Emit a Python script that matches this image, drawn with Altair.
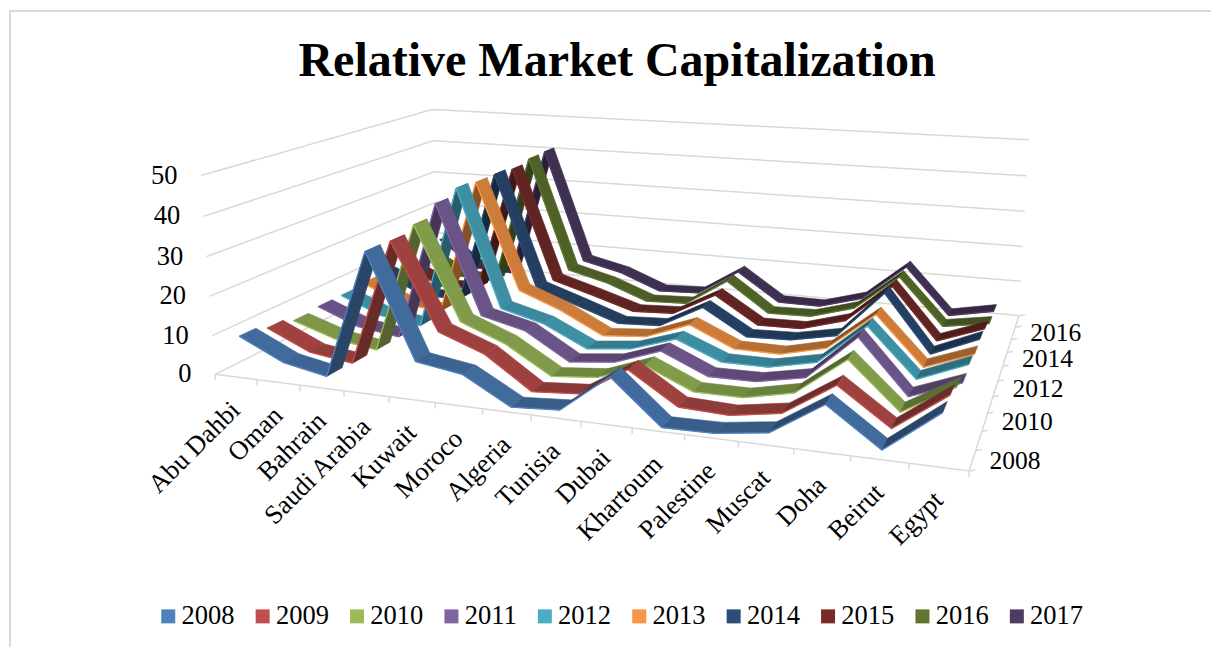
import altair as alt
import numpy as np
import pandas as pd

W, H = 1211, 647

CITIES = ["Abu Dahbi", "Oman", "Bahrain", "Saudi Arabia", "Kuwait", "Moroco", "Algeria", "Tunisia",
          "Dubai", "Khartoum", "Palestine", "Muscat", "Doha", "Beirut", "Egypt"]
YEARS = ["2008", "2009", "2010", "2011", "2012", "2013", "2014", "2015", "2016", "2017"]
COLORS = ["#4F81BD", "#C0504D", "#9BBB59", "#8064A2", "#4BACC6",
          "#F79646", "#2C4D75", "#772C2A", "#5F7530", "#4D3B62"]

# Market capitalization per year, one list per year, in city order
V2008 = [9.8, 4.4, 2.2, 34.2, 8.6, 6.8, 0.3, 1.1, 10.4, 0.0, 0.2, 1.9, 9.8, 1.2, 11.0]
V2009 = [8.5, 3.4, 1.8, 34.0, 12.4, 8.1, 0.1, 1.0, 8.3, 0.7, 0.2, 2.2, 10.2, 1.7, 10.8]
V2010 = [7.1, 3.4, 1.7, 35.5, 11.6, 7.1, 0.1, 1.2, 5.6, 0.4, 0.4, 3.0, 12.4, 1.3, 8.7]
V2011 = [7.7, 3.3, 1.7, 38.5, 9.9, 7.1, 0.1, 1.4, 5.6, 0.4, 0.5, 2.9, 14.2, 1.0, 5.8]
V2012 = [7.7, 3.1, 1.4, 40.3, 8.6, 5.6, 0.0, 1.3, 5.2, 0.4, 0.4, 3.0, 13.5, 1.4, 6.5]
V2013 = [8.2, 3.4, 2.2, 39.7, 10.5, 6.0, 0.1, 1.1, 5.6, 0.3, 0.2, 3.1, 13.1, 0.7, 5.4]
V2014 = [8.3, 2.7, 2.6, 39.8, 8.1, 4.2, 0.2, 0.8, 7.1, 0.1, 0.5, 2.9, 15.5, 0.5, 5.8]
V2015 = [7.8, 2.4, 2.8, 39.2, 7.4, 4.0, 0.4, 1.0, 7.4, 0.0, 0.2, 3.7, 14.3, 0.5, 5.1]
V2016 = [8.8, 2.5, 2.0, 40.2, 7.5, 4.6, 0.2, 0.7, 8.4, 0.1, 0.4, 3.9, 13.9, 1.1, 3.1]
V2017 = [10.3, 2.2, 1.6, 40.4, 7.5, 4.8, 0.2, 0.7, 8.2, 0.2, 0.1, 3.6, 13.8, 0.9, 3.3]
SERIES = [V2008, V2009, V2010, V2011, V2012, V2013, V2014, V2015, V2016, V2017]

GRID_LEVELS = [0, 10, 20, 30, 40, 50]
YEAR_TICKS = ["2008", "2010", "2012", "2014", "2016"]

# Perspective camera: (category 0-1, year depth 0-1, value) -> page pixels
CAMERA = np.array([[584.45721, 358.97714, -0.40569, 215.06724],
                   [14.25424, -29.7377, -4.08324, 374.36757],
                   [-0.17499, 0.31194, -0.00061, 1.0]])
RIBBON = 0.03
GRID = "#D9D9D9"
FONT = "Liberation Serif"
LABEL_SIZE = 26.5
YEAR_LABEL_SIZE = 25.5


def project(u, v, z):
    h = CAMERA @ np.array([u, v, z, 1.0])
    return float(h[0] / h[2]), float(h[1] / h[2])


def shade(color, f):
    rgb = [int(color[i:i + 2], 16) for i in (1, 3, 5)]
    return "#%02x%02x%02x" % tuple(int(min(255, c * f)) for c in rgb)


def face_factor(step):
    if step < 0:
        return 0.74 + 0.09 * min(-step / 5, 1)
    return 0.74 - 0.2 * min(step / 10, 1)


# Ribbon faces, painted from the back year to the front year
rows = []
pid = 0
for s in reversed(range(len(YEARS))):
    v = (s + 0.5) / len(YEARS)
    vals = SERIES[s]
    for k in range(len(vals) - 1):
        u0, u1 = (k + 0.5) / len(vals), (k + 1.5) / len(vals)
        z0, z1 = vals[k], vals[k + 1]
        corners = [(u0, v - RIBBON, z0), (u1, v - RIBBON, z1), (u1, v + RIBBON, z1), (u0, v + RIBBON, z0)]
        face = shade(COLORS[s], face_factor(z1 - z0))
        for n, c in enumerate(corners):
            px, py = project(*c)
            rows.append(dict(piece=pid, vertex=n, px=px, py=py, paint=face, lw=0.6))
        pid += 1
        edge = shade(COLORS[s], 1.02)
        for n, c in enumerate(corners[:2]):
            px, py = project(*c)
            rows.append(dict(piece=pid, vertex=n, px=px, py=py, paint=edge, lw=1.3))
        pid += 1
ribbons = pd.DataFrame(rows)

# Walls, floor edges and tick marks
rows = []
lid = 0


def polyline(points):
    global lid
    for n, p in enumerate(points):
        px, py = p
        rows.append(dict(piece=lid, vertex=n, px=px, py=py))
    lid += 1


for z in GRID_LEVELS:
    polyline([project(0, 0, z), project(0, 1, z), project(1, 1, z)])
polyline([project(0, 0, 0), project(1, 0, 0), project(1, 1, 0)])
for i in range(len(CITIES) + 1):
    x0, y0 = project(i / len(CITIES), 0, 0)
    polyline([(x0, y0), (x0, y0 + 6)])
for i in range(len(YEARS) + 1):
    x0, y0 = project(1, i / len(YEARS), 0)
    polyline([(x0, y0), (x0 + 6, y0 - 1)])
grid = pd.DataFrame(rows)

# Only the left and top sides of the outer border fall on the page
frame = pd.DataFrame(dict(piece=0, vertex=range(3), px=[10, 10, W + 2], py=[H + 2, 11, 11]))

city_labels = pd.DataFrame([
    dict(label=c, px=project((i + 0.5) / len(CITIES), 0, 0)[0],
         py=project((i + 0.5) / len(CITIES), 0, 0)[1] + 29)
    for i, c in enumerate(CITIES)])
value_labels = pd.DataFrame([
    dict(label=str(z), px=project(0, 0, z)[0] - 23.5, py=project(0, 0, z)[1])
    for z in GRID_LEVELS])
year_labels = pd.DataFrame([
    dict(label=y, px=project(1, (YEARS.index(y) + 0.5) / len(YEARS), 0)[0] + 17,
         py=project(1, (YEARS.index(y) + 0.5) / len(YEARS), 0)[1])
    for y in YEAR_TICKS])
title = pd.DataFrame([dict(label="Relative Market Capitalization", px=617, py=62)])

X = alt.X("px:Q", scale=alt.Scale(domain=[0, W], range=[0, W]), axis=None)
Y = alt.Y("py:Q", scale=alt.Scale(domain=[0, H], range=[0, H]), axis=None)


def texts(df, **mark):
    return alt.Chart(df).mark_text(font=FONT, color="#000000", **mark).encode(x=X, y=Y, text="label:N")


grid_layer = alt.Chart(grid).mark_line(color=GRID, strokeWidth=1.5).encode(
    x=X, y=Y, detail="piece:N", order="vertex:Q")
frame_layer = alt.Chart(frame).mark_line(color=GRID, strokeWidth=2, clip=True).encode(
    x=X, y=Y, detail="piece:N", order="vertex:Q")
ribbon_layer = alt.Chart(ribbons).mark_line(interpolate="linear-closed").encode(
    x=X, y=Y,
    detail="piece:N",
    order="vertex:Q",
    fill=alt.Fill("paint:N", scale=None),
    stroke=alt.Stroke("paint:N", scale=None),
    strokeWidth=alt.StrokeWidth("lw:Q", scale=None),
)

# Points carry the year colour scale so the chart gets a real legend
key = pd.DataFrame(dict(year=YEARS, px=[0.0] * len(YEARS), py=[0.0] * len(YEARS)))
legend_layer = alt.Chart(key).mark_square(opacity=0).encode(
    x=X, y=Y,
    color=alt.Color("year:N", scale=alt.Scale(domain=YEARS, range=COLORS),
                    legend=alt.Legend(orient="none", legendX=155, legendY=603, direction="horizontal",
                                      columns=10, title=None, symbolType="square", symbolSize=196,
                                      symbolOpacity=1, symbolStrokeWidth=0, labelFont=FONT,
                                      labelFontSize=LABEL_SIZE, labelColor="#000000", labelOffset=0,
                                      columnPadding=14.4, labelLimit=80)),
)

chart = alt.layer(
    frame_layer, grid_layer, ribbon_layer, legend_layer,
    texts(title, fontSize=48, fontWeight="bold", align="center", baseline="middle"),
    texts(value_labels, fontSize=LABEL_SIZE, align="right", baseline="middle"),
    texts(year_labels, fontSize=YEAR_LABEL_SIZE, align="left", baseline="middle"),
    texts(city_labels, fontSize=LABEL_SIZE, align="right", baseline="middle", angle=315),
).properties(width=W, height=H, padding=0, autosize=alt.AutoSizeParams(type="none"),
             background="#ffffff").configure_view(stroke=None)

chart.save("out.html", embed_options={"renderer": "svg", "actions": False})
